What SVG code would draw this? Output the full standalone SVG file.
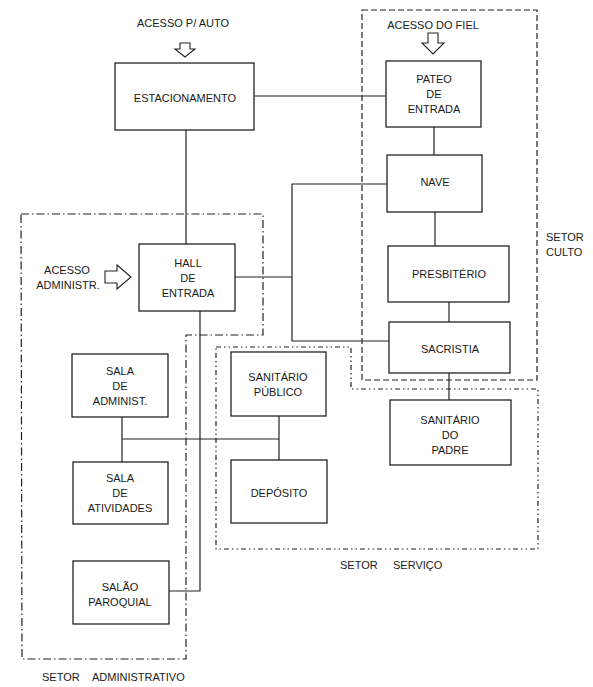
<svg xmlns="http://www.w3.org/2000/svg" width="593" height="687" viewBox="0 0 593 687">
<style>
  .box { fill: #fff; stroke: #222; stroke-width: 1.3; }
  .ln { fill: none; stroke: #222; stroke-width: 1.2; }
  .arr { fill: #fff; stroke: #222; stroke-width: 1.1; stroke-linejoin: miter; }
  .t { font-family: "Liberation Sans", Arial, sans-serif; font-size: 11px; fill: #1a1a1a; text-anchor: middle; }
  .tl { font-family: "Liberation Sans", Arial, sans-serif; font-size: 11px; fill: #1a1a1a; }
  .culto { fill: none; stroke: #222; stroke-width: 1.2; stroke-dasharray: 6 3; }
  .admin { fill: none; stroke: #222; stroke-width: 1.2; stroke-dasharray: 8 3 1.5 3; }
  .serv { fill: none; stroke: #222; stroke-width: 1.2; stroke-dasharray: 5 3 1.5 3 1.5 3; }
</style>
<rect width="593" height="687" fill="#fff"/>

<g id="sectors">
  <rect id="setor-culto" class="culto" x="362" y="10" width="175" height="370"/>
  <polygon id="setor-admin" class="admin" points="21,214 263,214 263,335 186,335 186,659 22,659"/>
  <polygon id="setor-servico" class="serv" points="216,347 351,347 351,389 538,389 538,549 216,549"/>
  <text class="tl" x="546" y="241">SETOR</text>
  <text class="tl" x="546" y="256">CULTO</text>
  <text class="tl" x="42" y="681">SETOR</text>
  <text class="tl" x="92" y="681">ADMINISTRATIVO</text>
  <text class="tl" x="340" y="569">SETOR</text>
  <text class="tl" x="393" y="569">SERVIÇO</text>
</g>

<g id="connectors">
  <line class="ln" x1="254" y1="96" x2="386" y2="96"/>
  <line class="ln" x1="186" y1="130" x2="186" y2="244"/>
  <line class="ln" x1="434" y1="127" x2="434" y2="155"/>
  <line class="ln" x1="435" y1="212" x2="435" y2="246"/>
  <line class="ln" x1="449" y1="302" x2="449" y2="322"/>
  <line class="ln" x1="449" y1="373" x2="449" y2="400"/>
  <polyline class="ln" points="387,184 292,184 292,341 389,341"/>
  <line class="ln" x1="235" y1="277" x2="292" y2="277"/>
  <polyline class="ln" points="200,311 200,591 169,591"/>
  <line class="ln" x1="122" y1="439" x2="279" y2="439"/>
  <line class="ln" x1="122" y1="417" x2="122" y2="462"/>
  <line class="ln" x1="279" y1="416" x2="279" y2="460"/>
</g>

<g id="acesso-auto">
  <text class="t" x="183" y="27">ACESSO P/ AUTO</text>
  <polygon class="arr" points="180,43 190,43 190,49 195,49 185,57 175,49 180,49"/>
</g>
<g id="acesso-fiel">
  <text class="t" x="433" y="29">ACESSO DO FIEL</text>
  <polygon class="arr" points="428,33 438,33 438,43 444,43 433,54 422,43 428,43"/>
</g>
<g id="acesso-admin">
  <text class="t" x="67" y="274">ACESSO</text>
  <text class="t" x="68" y="289">ADMINISTR.</text>
  <polygon class="arr" points="105,271 117,271 117,265 131,277 117,289 117,283 105,283"/>
</g>

<g id="estacionamento">
  <rect class="box" x="115" y="63" width="139" height="67"/>
  <text class="t" x="185" y="102">ESTACIONAMENTO</text>
</g>
<g id="pateo">
  <rect class="box" x="386" y="61" width="95" height="66"/>
  <text class="t" x="434" y="83">PATEO</text>
  <text class="t" x="434" y="98">DE</text>
  <text class="t" x="434" y="113">ENTRADA</text>
</g>
<g id="nave">
  <rect class="box" x="387" y="155" width="95" height="57"/>
  <text class="t" x="435" y="186">NAVE</text>
</g>
<g id="presbiterio">
  <rect class="box" x="388" y="246" width="121" height="56"/>
  <text class="t" x="449" y="278">PRESBITÉRIO</text>
</g>
<g id="sacristia">
  <rect class="box" x="389" y="322" width="121" height="51"/>
  <text class="t" x="450" y="353">SACRISTIA</text>
</g>
<g id="sanitario-padre">
  <rect class="box" x="390" y="400" width="121" height="65"/>
  <text class="t" x="450" y="424">SANITÁRIO</text>
  <text class="t" x="450" y="439">DO</text>
  <text class="t" x="450" y="454">PADRE</text>
</g>
<g id="hall">
  <rect class="box" x="139" y="244" width="96" height="67"/>
  <text class="t" x="188" y="267">HALL</text>
  <text class="t" x="188" y="282">DE</text>
  <text class="t" x="188" y="297">ENTRADA</text>
</g>
<g id="sala-admin">
  <rect class="box" x="72" y="354" width="96" height="63"/>
  <text class="t" x="120" y="375">SALA</text>
  <text class="t" x="120" y="390">DE</text>
  <text class="t" x="120" y="405">ADMINIST.</text>
</g>
<g id="sala-atividades">
  <rect class="box" x="73" y="462" width="95" height="62"/>
  <text class="t" x="120" y="482">SALA</text>
  <text class="t" x="120" y="497">DE</text>
  <text class="t" x="120" y="512">ATIVIDADES</text>
</g>
<g id="salao-paroquial">
  <rect class="box" x="73" y="561" width="96" height="63"/>
  <text class="t" x="120" y="591">SALÃO</text>
  <text class="t" x="120" y="606">PAROQUIAL</text>
</g>
<g id="sanitario-publico">
  <rect class="box" x="231" y="352" width="95" height="64"/>
  <text class="t" x="278" y="381">SANITÁRIO</text>
  <text class="t" x="278" y="396">PÚBLICO</text>
</g>
<g id="deposito">
  <rect class="box" x="231" y="460" width="96" height="63"/>
  <text class="t" x="279" y="497">DEPÓSITO</text>
</g>
</svg>
